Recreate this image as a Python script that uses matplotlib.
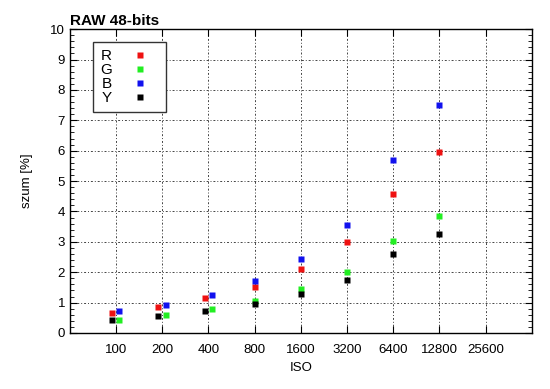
import matplotlib
matplotlib.use('Agg')
import matplotlib.pyplot as plt
from matplotlib.ticker import FixedLocator, MultipleLocator, NullLocator

plt.rcParams['font.family'] = ['Liberation Sans', 'DejaVu Sans']

# ISO ticks and measured points (R/Y slightly below nominal ISO, G/B slightly above)
ISO_TICKS = [100, 200, 400, 800, 1600, 3200, 6400, 12800, 25600]
ISO_RY = [94, 188, 377, 800, 1600, 3200, 6400, 12800]
ISO_GB = [105, 210, 420, 800, 1600, 3200, 6400, 12800]

R = [0.65, 0.85, 1.14, 1.51, 2.09, 2.99, 4.57, 5.95]
G = [0.44, 0.58, 0.79, 1.05, 1.45, 2.02, 3.03, 3.85]
B = [0.72, 0.93, 1.26, 1.72, 2.43, 3.57, 5.69, 7.50]
Y = [0.42, 0.55, 0.72, 0.96, 1.27, 1.75, 2.61, 3.27]

fig = plt.figure(figsize=(5.5, 3.89), dpi=100)
ax = fig.add_axes([0.127, 0.144, 0.840, 0.781])

ms = 5
ax.plot(ISO_RY, R, 's', color='#ee1111', ms=ms, mec='none', label='R')
ax.plot(ISO_GB, G, 's', color='#22ee22', ms=ms, mec='none', label='G')
ax.plot(ISO_GB, B, 's', color='#1111ee', ms=ms, mec='none', label='B')
ax.plot(ISO_RY, Y, 's', color='#000000', ms=ms, mec='none', label='Y')

ax.set_xscale('log')
ax.set_xlim(50, 51200)
ax.set_ylim(0, 10)
ax.xaxis.set_major_locator(FixedLocator(ISO_TICKS))
ax.xaxis.set_minor_locator(NullLocator())
ax.set_xticklabels([str(t) for t in ISO_TICKS])
ax.yaxis.set_major_locator(MultipleLocator(1))
ax.yaxis.set_minor_locator(MultipleLocator(0.2))

ax.tick_params(which='both', direction='in', top=True, right=True, labelsize=9.5)
ax.tick_params(which='major', length=5, width=0.8)
ax.tick_params(which='minor', length=3, width=0.6)
ax.tick_params(axis='x', pad=8)

ax.grid(True, which='major', color='#444444', linestyle=(0, (2, 2, 1, 2)), linewidth=0.7)

for s in ax.spines.values():
    s.set_linewidth(1.0)

ax.set_xlabel('ISO', fontsize=9.5, labelpad=4)
ax.set_ylabel('szum [%]', fontsize=9.5, labelpad=12)
ax.set_title('RAW 48-bits', fontsize=11, fontweight='bold', loc='left', pad=3)

leg = ax.legend(loc='upper left', bbox_to_anchor=(0.05, 0.957), markerfirst=False,
                fontsize=11, handlelength=2.5, handletextpad=0.6, labelspacing=0.0,
                borderpad=0.45, borderaxespad=0, fancybox=False, framealpha=1,
                edgecolor='#333333', markerscale=1.0)
leg.get_frame().set_linewidth(1.0)
leg.set_zorder(5)

fig.savefig('out.png', dpi=100)
